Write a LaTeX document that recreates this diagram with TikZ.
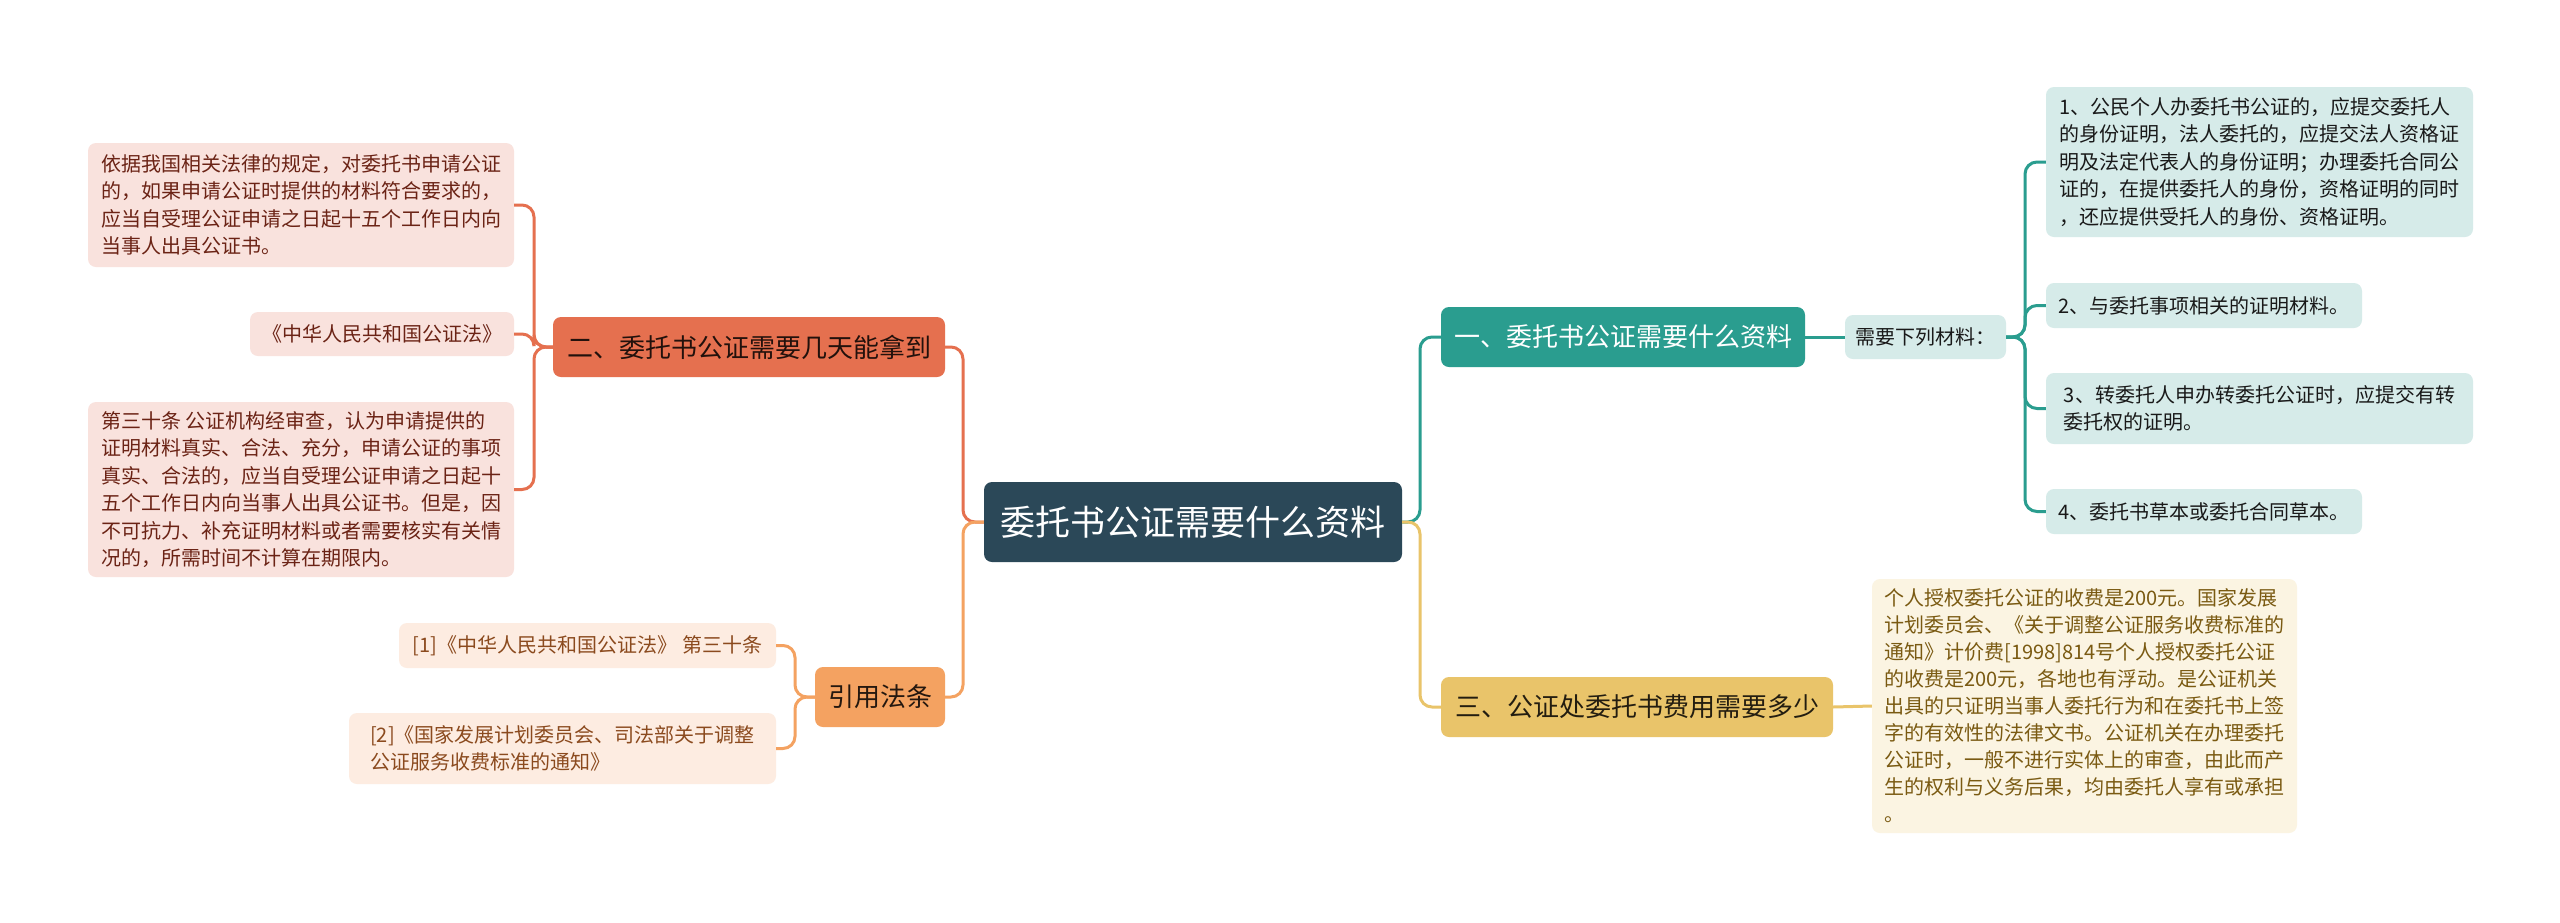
\documentclass[tikz,border=0pt]{standalone}
\usepackage{fontspec}
\setmainfont{Noto Sans CJK SC}
\definecolor{cdark}{HTML}{2B4858}
\definecolor{cred}{HTML}{E5704F}
\definecolor{credl}{HTML}{F9E2DD}
\definecolor{credt}{HTML}{6B2315}
\definecolor{corg}{HTML}{F4A261}
\definecolor{corgl}{HTML}{FDECE1}
\definecolor{corgt}{HTML}{8B4A1E}
\definecolor{cteal}{HTML}{2A9D8F}
\definecolor{ctealine}{HTML}{2A9D8F}
\definecolor{cteall}{HTML}{D6EBE9}
\definecolor{cgold}{HTML}{E9C46A}
\definecolor{cgoldl}{HTML}{FBF4E2}
\definecolor{cgoldt}{HTML}{7A5A12}
\begin{document}
\begin{tikzpicture}[x=1pt,y=-1pt,
  box/.style={rounded corners=8pt, inner sep=0pt, align=left, anchor=center},
  small/.style={box, font=\fontsize{20pt}{27.5pt}\selectfont},
  big/.style={box, font=\fontsize{26pt}{30pt}\selectfont},
  rootbox/.style={box, fill=cdark, text=white, font=\fontsize{35pt}{40pt}\selectfont},
  lnk/.style={line width=3pt, rounded corners=12pt}
]
\useasboundingbox (0,0) rectangle (2560,922);
\fill[white] (0,0) rectangle (2560,922);

% root
\node[rootbox, minimum width=418pt, minimum height=80pt] (c) at (1193,522) {委托书公证需要什么资料};

% left branches
\node[big, fill=cred, text=black!85!cred, minimum width=392pt, minimum height=60pt] (b2) at (749,347) {二、委托书公证需要几天能拿到};
\node[big, fill=corg, text=black!85!corg, minimum width=130pt, minimum height=60pt] (b4) at (880,697) {引用法条};

\node[small, fill=credl, text=credt, minimum width=426pt, minimum height=124pt] (l1) at (301,205) {依据我国相关法律的规定，对委托书申请公证\\的，如果申请公证时提供的材料符合要求的，\\应当自受理公证申请之日起十五个工作日内向\\当事人出具公证书。};
\node[small, fill=credl, text=credt, minimum width=264pt, minimum height=44pt] (l2) at (382,334) {《中华人民共和国公证法》};
\node[small, fill=credl, text=credt, minimum width=426pt, minimum height=175pt] (l3) at (301,489.5) {第三十条 公证机构经审查，认为申请提供的\\证明材料真实、合法、充分，申请公证的事项\\真实、合法的，应当自受理公证申请之日起十\\五个工作日内向当事人出具公证书。但是，因\\不可抗力、补充证明材料或者需要核实有关情\\况的，所需时间不计算在期限内。};

\node[small, fill=corgl, text=corgt, minimum width=377pt, minimum height=45pt] (r1) at (587.5,645.5) {[1]《中华人民共和国公证法》 第三十条};
\node[small, fill=corgl, text=corgt, minimum width=427pt, minimum height=71pt] (r2) at (562.5,748.5) {[2]《国家发展计划委员会、司法部关于调整\\公证服务收费标准的通知》};

% right branches
\node[big, fill=cteal, text=white, minimum width=364pt, minimum height=60pt] (b1) at (1623,337) {一、委托书公证需要什么资料};
\node[small, fill=cteall, text=black!90, minimum width=161pt, minimum height=44pt] (n1) at (1925.5,337) {需要下列材料：};

\node[small, fill=cteall, text=black!90, minimum width=427pt, minimum height=150pt] (i1) at (2259.5,162) {1、公民个人办委托书公证的，应提交委托人\\的身份证明，法人委托的，应提交法人资格证\\明及法定代表人的身份证明；办理委托合同公\\证的，在提供委托人的身份，资格证明的同时\\，还应提供受托人的身份、资格证明。};
\node[small, fill=cteall, text=black!90, minimum width=316pt, minimum height=45pt] (i2) at (2204,305.5) {2、与委托事项相关的证明材料。};
\node[small, fill=cteall, text=black!90, minimum width=427pt, minimum height=71pt] (i3) at (2259.5,408.5) {3、转委托人申办转委托公证时，应提交有转\\委托权的证明。};
\node[small, fill=cteall, text=black!90, minimum width=316pt, minimum height=45pt] (i4) at (2204,511.5) {4、委托书草本或委托合同草本。};

\node[big, fill=cgold, text=black!85!cgold, minimum width=392pt, minimum height=60pt] (b3) at (1637,707) {三、公证处委托书费用需要多少};
\node[small, fill=cgoldl, text=cgoldt, minimum width=425pt, minimum height=254pt, font=\fontsize{20pt}{27pt}\selectfont] (fee) at (2084.5,706) {个人授权委托公证的收费是200元。国家发展\\计划委员会、《关于调整公证服务收费标准的\\通知》计价费[1998]814号个人授权委托公证\\的收费是200元，各地也有浮动。是公证机关\\出具的只证明当事人委托行为和在委托书上签\\字的有效性的法律文书。公证机关在办理委托\\公证时，一般不进行实体上的审查，由此而产\\生的权利与义务后果，均由委托人享有或承担\\。};

% junction coordinates
\coordinate (jl) at (963,522);
\coordinate (jr) at (1420,522);
\coordinate (j2) at (534,347);
\coordinate (j4) at (795,697);
\coordinate (jn) at (2025,337);

% connectors
\draw[lnk, cred] (c.west) -- (jl) |- (b2.east);
\draw[lnk, corg] (c.west) -- (jl) |- (b4.east);
\draw[lnk, ctealine] (c.east) -- (jr) |- (b1.west);
\draw[lnk, cgold] (c.east) -- (jr) |- (b3.west);

\draw[lnk, cred] (b2.west) -- (j2) |- (l1.east);
\draw[lnk, cred] (b2.west) -- (j2) |- (l2.east);
\draw[lnk, cred] (b2.west) -- (j2) |- (l3.east);

\draw[lnk, corg] (b4.west) -- (j4) |- (r1.east);
\draw[lnk, corg] (b4.west) -- (j4) |- (r2.east);

\draw[lnk, ctealine] (b1.east) -- (n1.west);
\draw[lnk, ctealine] (n1.east) -- (jn) |- (i1.west);
\draw[lnk, ctealine] (n1.east) -- (jn) |- (i2.west);
\draw[lnk, ctealine] (n1.east) -- (jn) |- (i3.west);
\draw[lnk, ctealine] (n1.east) -- (jn) |- (i4.west);

\draw[lnk, cgold] (b3.east) -- (fee.west);
\end{tikzpicture}
\end{document}
